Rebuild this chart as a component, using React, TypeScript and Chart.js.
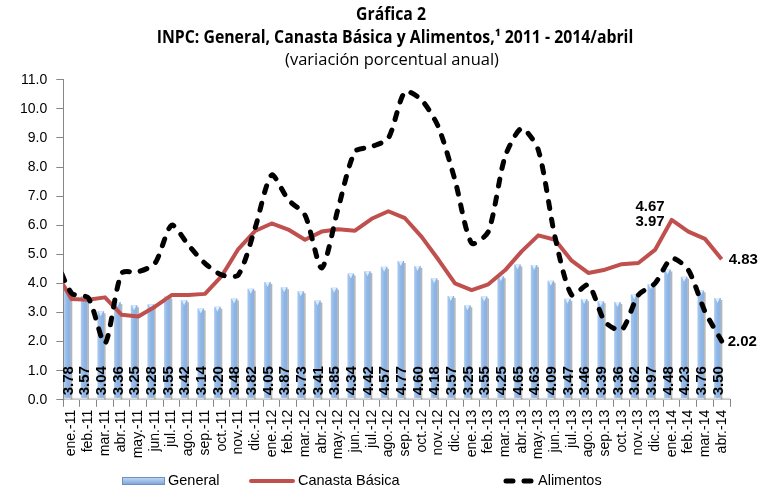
import React, { useEffect, useRef } from "react";
import { Chart, registerables } from "chart.js";

Chart.register(...registerables);

const categories = [
  "ene.-11", "feb.-11", "mar.-11", "abr.-11", "may.-11", "jun.-11", "jul.-11", "ago.-11", "sep.-11", "oct.-11", "nov.-11", "dic.-11",
  "ene.-12", "feb.-12", "mar.-12", "abr.-12", "may.-12", "jun.-12", "jul.-12", "ago.-12", "sep.-12", "oct.-12", "nov.-12", "dic.-12",
  "ene.-13", "feb.-13", "mar.-13", "abr.-13", "may.-13", "jun.-13", "jul.-13", "ago.-13", "sep.-13", "oct.-13", "nov.-13", "dic.-13",
  "ene.-14", "feb.-14", "mar.-14", "abr.-14",
];

const general = [
  3.78, 3.57, 3.04, 3.36, 3.25, 3.28, 3.55, 3.42, 3.14, 3.20, 3.48, 3.82,
  4.05, 3.87, 3.73, 3.41, 3.85, 4.34, 4.42, 4.57, 4.77, 4.60, 4.18, 3.57,
  3.25, 3.55, 4.25, 4.65, 4.63, 4.09, 3.47, 3.46, 3.39, 3.36, 3.62, 3.97,
  4.48, 4.23, 3.76, 3.50,
];

const canasta = [
  3.46, 3.44, 3.52, 2.92, 2.86, 3.20, 3.60, 3.60, 3.64, 4.25, 5.18, 5.80,
  6.06, 5.85, 5.50, 5.78, 5.86, 5.81, 6.22, 6.48, 6.24, 5.60, 4.82, 4.00,
  3.77, 3.97, 4.45, 5.10, 5.65, 5.50, 4.78, 4.36, 4.47, 4.66, 4.70, 5.15,
  6.18, 5.78, 5.53, 4.83,
];

const alimentos = [
  3.66, 3.50, 1.94, 4.35, 4.40, 4.69, 6.00, 5.32, 4.69, 4.29, 4.29, 5.89,
  7.72, 6.87, 6.35, 4.53, 6.60, 8.53, 8.70, 8.99, 10.59, 10.30, 9.38, 7.55,
  5.38, 5.78, 8.35, 9.33, 8.58, 5.60, 3.60, 3.95, 2.68, 2.40, 3.60, 4.00,
  4.86, 4.46, 3.03, 2.02,
];

// previous month (dic.-10), only visible as the line entering at the left edge
const canastaPrev = 4.43;
const alimentosPrev = 4.9;

const yTicks = { min: 0, max: 11, step: 1 };

// free text annotations: [text, category index, value]
const notes: [string, number, number][] = [
  ["4.67", 36, 6.63],
  ["3.97", 36, 6.13],
];

const seriesNames = ["General", "Canasta Básica", "Alimentos"];

const RED = "#C0504D";
const BAR_FONT = 'bold 15px "Liberation Sans", Arial, sans-serif';
const TITLE_FONT_FAMILY = '"Open Sans", sans-serif';

function toPoints(prev: number, vals: number[]) {
  return [{ x: -1, y: prev }, ...vals.map((v, i) => ({ x: i, y: v }))];
}

function drawCondensed(ctx: any, text: string, cx: number, cy: number, sx: number) {
  ctx.save();
  ctx.translate(cx, cy);
  ctx.scale(sx, 1);
  ctx.fillText(text, 0, 0);
  ctx.restore();
}

const titlePlugin = {
  id: "titles",
  afterDraw(chart: any) {
    const ctx = chart.ctx;
    ctx.save();
    ctx.fillStyle = "#000";
    ctx.textAlign = "center";
    ctx.textBaseline = "middle";
    ctx.font = `bold 17px ${TITLE_FONT_FAMILY}`;
    drawCondensed(ctx, "Gráfica 2", 391, 15, 0.93);
    drawCondensed(ctx, "INPC: General, Canasta Básica y Alimentos,¹ 2011 - 2014/abril", 395, 38, 0.93);
    ctx.font = `17px ${TITLE_FONT_FAMILY}`;
    drawCondensed(ctx, "(variación porcentual anual)", 392, 60, 0.97);
    ctx.restore();
  },
};

const barDecorPlugin = {
  id: "barDecor",
  afterDatasetDraw(chart: any, args: any) {
    if (args.index !== 0) return;
    const ctx = chart.ctx;
    const meta = chart.getDatasetMeta(0);
    const area = chart.chartArea;
    ctx.save();
    // light floor under the bars
    ctx.fillStyle = "#D9D9D9";
    ctx.fillRect(area.left + 1, area.bottom - 2, area.right - area.left - 1, 2);
    meta.data.forEach((bar: any, i: number) => {
      const w = bar.width;
      // shadow on the right side
      ctx.fillStyle = "rgba(90,90,90,0.45)";
      ctx.fillRect(bar.x + w / 2, bar.y + 2, 1.5, bar.base - bar.y - 2);
      // light cap
      ctx.fillStyle = "#DCEEFF";
      ctx.beginPath();
      ctx.moveTo(bar.x - w / 2 + 1, bar.y);
      ctx.lineTo(bar.x + w / 2 - 1, bar.y);
      ctx.lineTo(bar.x, bar.y + 5);
      ctx.closePath();
      ctx.fill();
      ctx.save();
      ctx.translate(bar.x + 1, bar.base - 4);
      ctx.rotate(-Math.PI / 2);
      ctx.font = BAR_FONT;
      ctx.fillStyle = "#000";
      ctx.textAlign = "left";
      ctx.textBaseline = "middle";
      ctx.fillText(general[i].toFixed(2), 0, 0);
      ctx.restore();
    });
    ctx.restore();
  },
};

const notesPlugin = {
  id: "notes",
  afterDatasetsDraw(chart: any) {
    const ctx = chart.ctx;
    const xs = chart.scales.x;
    const ys = chart.scales.y;
    ctx.save();
    ctx.font = BAR_FONT;
    ctx.fillStyle = "#000";
    ctx.textBaseline = "middle";
    ctx.textAlign = "right";
    notes.forEach(([t, idx, v]) => {
      ctx.fillText(t, xs.getPixelForValue(idx) - 7, ys.getPixelForValue(v));
    });
    ctx.textAlign = "left";
    const last = categories.length - 1;
    ctx.fillText(canasta[last].toFixed(2), xs.getPixelForValue(last) + 7, ys.getPixelForValue(canasta[last]) + 1);
    ctx.fillText(alimentos[last].toFixed(2), xs.getPixelForValue(last) + 6, ys.getPixelForValue(alimentos[last]) + 1);
    ctx.restore();
  },
};

const legendPlugin = {
  id: "customLegend",
  afterDraw(chart: any) {
    const ctx = chart.ctx;
    const y = 481;
    const starts = [122, 249, 503];
    const swW = [43, 46, 28];
    ctx.save();
    ctx.font = '14.5px "Liberation Sans", Arial, sans-serif';
    ctx.textBaseline = "middle";
    const g = ctx.createLinearGradient(0, y - 4, 0, y + 4);
    g.addColorStop(0, "#C6DCF5");
    g.addColorStop(0.5, "#9DBFE8");
    g.addColorStop(1, "#7AA1D3");
    ctx.fillStyle = g;
    ctx.fillRect(starts[0], y - 4, swW[0], 8);
    ctx.strokeStyle = "#6F90BE";
    ctx.lineWidth = 1;
    ctx.strokeRect(starts[0] + 0.5, y - 3.5, swW[0] - 1, 7);
    ctx.strokeStyle = RED;
    ctx.lineWidth = 4;
    ctx.lineCap = "round";
    ctx.beginPath();
    ctx.moveTo(starts[1] + 2, y);
    ctx.lineTo(starts[1] + swW[1] - 2, y);
    ctx.stroke();
    ctx.strokeStyle = "#000";
    ctx.lineWidth = 5;
    ctx.setLineDash([7, 11]);
    ctx.beginPath();
    ctx.moveTo(starts[2] + 3, y);
    ctx.lineTo(starts[2] + swW[2] + 3, y);
    ctx.stroke();
    ctx.setLineDash([]);
    ctx.fillStyle = "#000";
    seriesNames.forEach((n, i) => {
      ctx.fillText(n, starts[i] + swW[i] + 3 + (i === 2 ? 4 : 0), y);
    });
    ctx.restore();
  },
};

export default function App() {
  const ref = useRef<HTMLCanvasElement | null>(null);

  useEffect(() => {
    document.body.style.margin = "0";
    if (!ref.current) return;
    const barColor = (c: any) => {
      const chart = c.chart;
      const xs = chart.scales?.x;
      if (!chart.chartArea || !xs || c.dataIndex === undefined) return "#8DB4E2";
      const cx = xs.getPixelForValue(c.dataIndex);
      const w = (xs.width / categories.length) * 0.8;
      const g = chart.ctx.createLinearGradient(cx - w / 2, 0, cx + w / 2, 0);
      g.addColorStop(0, "#A4C6EE");
      g.addColorStop(0.2, "#8FB5E4");
      g.addColorStop(0.75, "#86ACDD");
      g.addColorStop(1, "#6C90C2");
      return g;
    };
    const chart = new Chart(ref.current, {
      type: "bar",
      data: {
        labels: categories,
        datasets: [
          {
            type: "bar",
            label: seriesNames[0],
            data: general,
            backgroundColor: barColor,
            borderWidth: 0,
            barPercentage: 0.8,
            categoryPercentage: 1.0,
            order: 2,
            xAxisID: "x",
          } as any,
          {
            type: "line",
            label: seriesNames[1],
            data: toPoints(canastaPrev, canasta),
            xAxisID: "x2",
            borderColor: RED,
            backgroundColor: RED,
            borderWidth: 4,
            pointRadius: 0,
            tension: 0,
            borderJoinStyle: "round",
            order: 1,
          } as any,
          {
            type: "line",
            label: seriesNames[2],
            data: toPoints(alimentosPrev, alimentos),
            xAxisID: "x2",
            borderColor: "#000",
            backgroundColor: "#000",
            borderWidth: 5,
            borderDash: [7, 11],
            borderCapStyle: "round",
            borderJoinStyle: "round",
            pointRadius: 0,
            tension: 0.25,
            order: 0,
          } as any,
        ],
      },
      options: {
        animation: false,
        responsive: false,
        layout: { padding: { top: 79.7, right: 42, left: 0, bottom: 0 } },
        plugins: {
          legend: { display: false },
          title: { display: false },
          tooltip: { enabled: false },
        },
        scales: {
          x: {
            type: "category",
            offset: true,
            grid: {
              display: true,
              drawOnChartArea: false,
              drawTicks: true,
              tickLength: 7,
              color: "#868686",
              offset: true,
            },
            border: { display: true, color: "#868686", width: 1 },
            ticks: {
              autoSkip: false,
              maxRotation: 90,
              minRotation: 90,
              padding: 3,
              color: "#000",
              font: { family: '"Liberation Sans", Arial, sans-serif', size: 14 },
            },
            afterFit: (s: any) => {
              s.height = 89.2;
            },
          },
          x2: {
            type: "linear",
            position: "bottom",
            display: true,
            min: -0.5,
            max: categories.length - 0.5,
            offset: false,
            grid: { display: false, drawTicks: false },
            border: { display: false },
            ticks: { display: false },
            afterFit: (s: any) => {
              s.height = 0;
              s.paddingLeft = 0;
              s.paddingRight = 0;
            },
          },
          y: {
            min: yTicks.min,
            max: yTicks.max,
            grid: {
              display: true,
              drawOnChartArea: false,
              drawTicks: true,
              tickLength: 7,
              color: "#868686",
            },
            border: { display: true, color: "#868686", width: 1 },
            ticks: {
              stepSize: yTicks.step,
              padding: 9,
              color: "#000",
              font: { family: '"Liberation Sans", Arial, sans-serif', size: 14 },
              callback: (v: any) => Number(v).toFixed(1),
            },
            afterFit: (s: any) => {
              s.width = 63.3;
            },
          },
        },
      } as any,
      plugins: [titlePlugin, barDecorPlugin, notesPlugin, legendPlugin],
    });
    return () => chart.destroy();
  }, []);

  return (
    <div style={{ width: 772, height: 489, position: "relative", overflow: "hidden" }}>
      <canvas ref={ref} width={772} height={489} style={{ display: "block" }} />
    </div>
  );
}
